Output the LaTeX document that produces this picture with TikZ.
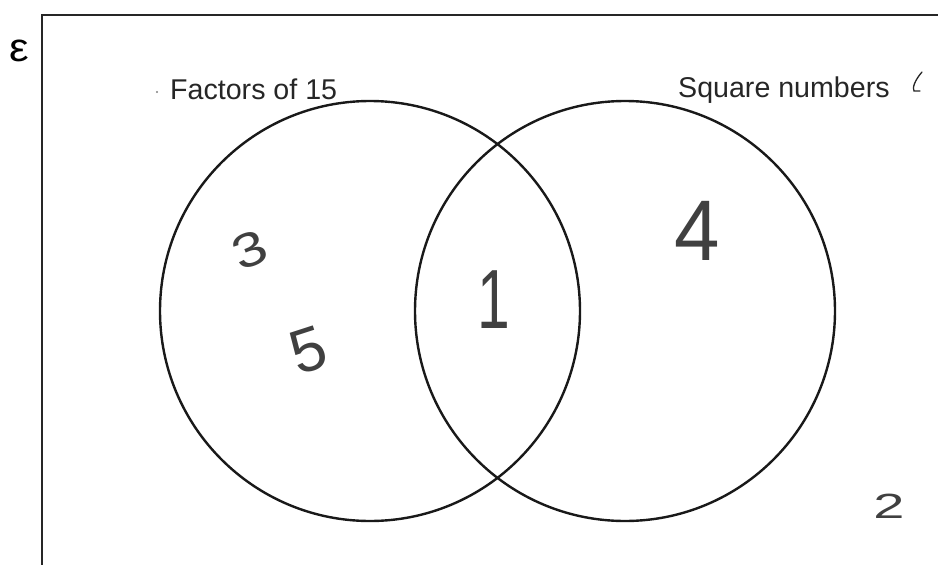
\documentclass[tikz,border=0pt]{standalone}
\usepackage{fontspec}
\setmainfont{Liberation Sans}
\begin{document}
\begin{tikzpicture}[x=1pt,y=-1pt,
  frame/.style={line width=2.8pt,draw=black!85},
  setring/.style={line width=2.4pt,draw=black!90},
  label/.style={inner sep=0pt,anchor=base west,font=\fontsize{28.6}{34}\selectfont,text=black!85},
  hand/.style={inner sep=0pt,text=black!75}]
\useasboundingbox (0,0) rectangle (938,565);
% universal set frame (cut off at right and bottom)
\coordinate (fbl) at (42,566);
\coordinate (ftl) at (42,15);
\coordinate (ftr) at (939,15);
\draw[frame] (fbl) -- (ftl) -- (ftr);
\node[inner sep=0pt,font=\fontsize{40}{44}\selectfont,xscale=1.1] (eps) at (19.5,51) {ε};
% circles
\node[setring,circle,minimum size=420pt,inner sep=0pt] (A) at (370,311) {};
\node[setring,circle,minimum size=420pt,inner sep=0pt] (B) at (625,311) {};
% labels
\node[label] (la) at (170,99) {Factors of 15};
\node[label] (lb) at (678,97) {Square numbers};
\fill[black!50] (157,92) circle (1.1pt);
\draw[line width=1.3pt,black!85,line cap=round] (922,72) .. controls (915,80) and (912,88) .. (914,91) -- (920,91);
% handwritten elements
\node[hand,font=\fontsize{48}{50}\selectfont,rotate=22,xscale=1.25] (n3) at (250,250) {3};
\node[hand,font=\fontsize{62}{66}\selectfont,rotate=18] (n5) at (308,350) {5};
\node[hand,font=\fontsize{84}{88}\selectfont,xscale=0.7] (n1) at (494,300) {1};
\node[hand,font=\fontsize{86}{90}\selectfont,xscale=0.95] (n4) at (697,231) {4};
\node[hand,font=\fontsize{35}{38}\selectfont,xscale=1.6] (n2) at (889,506) {2};
\end{tikzpicture}
\end{document}
